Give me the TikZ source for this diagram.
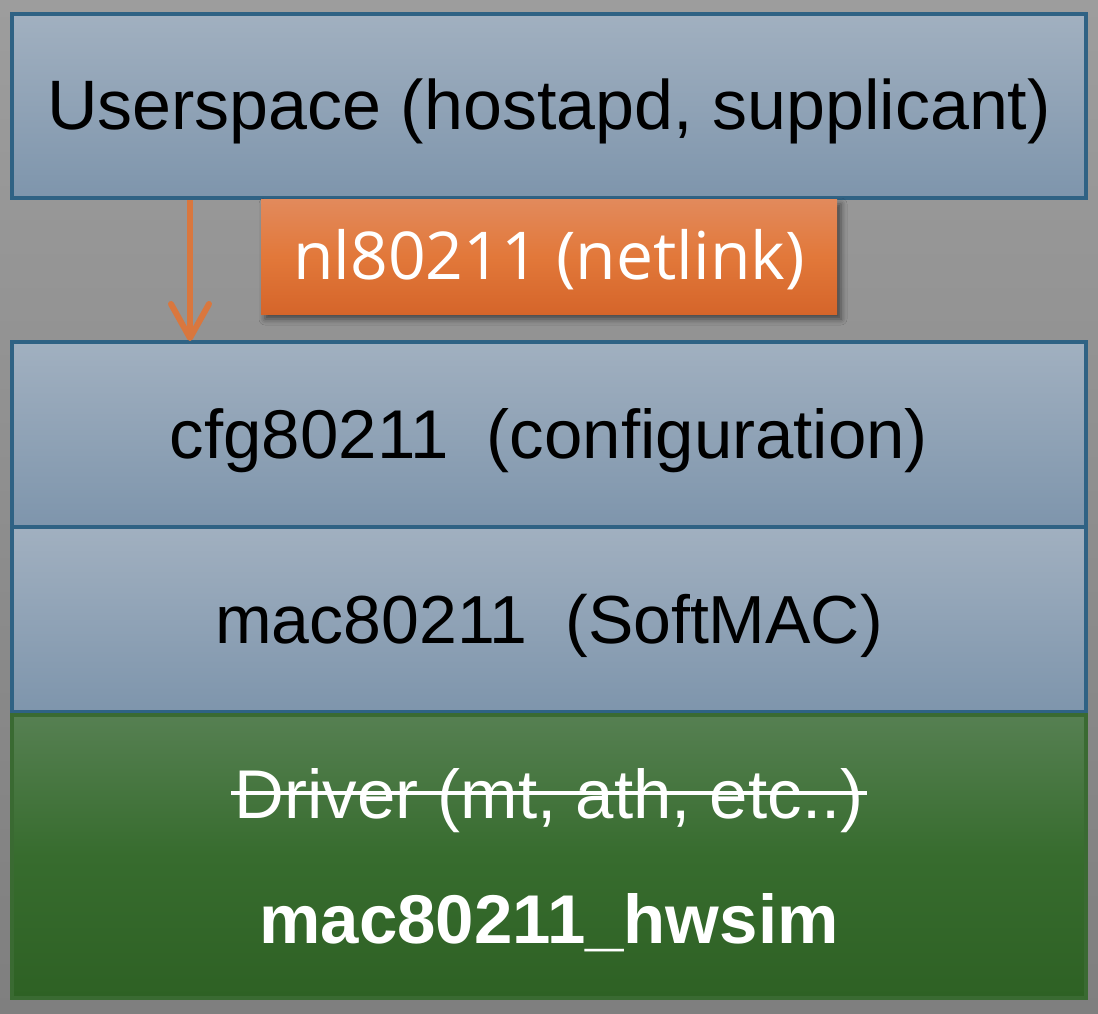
\documentclass[tikz,border=0pt]{standalone}
\usepackage{fontspec}
\setmainfont{Liberation Sans}
\newfontfamily\osans{Open Sans}
\usetikzlibrary{arrows.meta,shadows.blur}
\definecolor{bgtop}{RGB}{157,157,157}
\definecolor{bgbot}{RGB}{127,127,127}
\definecolor{bluetop}{RGB}{161,176,192}
\definecolor{bluebot}{RGB}{126,149,172}
\definecolor{blueline}{RGB}{47,98,132}
\definecolor{greentop}{RGB}{86,128,82}
\definecolor{greenmid}{RGB}{55,108,46}
\definecolor{greenbot}{RGB}{46,97,36}
\definecolor{greenline}{RGB}{58,106,50}
\definecolor{orangetop}{RGB}{226,138,92}
\definecolor{orangemid}{RGB}{226,120,58}
\definecolor{orangebot}{RGB}{213,101,42}
\definecolor{arrowcol}{RGB}{217,119,62}
\begin{document}
\begin{tikzpicture}[x=1pt,y=-1pt,
  layerbox/.style={draw=blueline, line width=3.5pt, top color=bluetop, bottom color=bluebot,
    minimum width=1074pt, inner sep=0pt, outer sep=0pt},
  hwbox/.style={draw=greenline, line width=3.5pt, top color=greentop, bottom color=greenbot, middle color=greenmid,
    minimum width=1074pt, inner sep=0pt, outer sep=0pt},
  nlbox/.style={top color=orangetop, bottom color=orangebot, middle color=orangemid,
    minimum width=576pt, minimum height=115pt, inner sep=0pt, outer sep=0pt,
    blur shadow={shadow xshift=4pt, shadow yshift=-5pt, shadow blur radius=6pt, shadow opacity=55}},
  darktext/.style={anchor=base, inner sep=0pt, text=black},
  whitetext/.style={anchor=base, inner sep=0pt, text=white},
  arr/.style={draw=arrowcol, line width=6pt, -{Straight Barb[length=34pt,width=38pt,round]}}
]
\useasboundingbox (0,0) rectangle (1098,1014);
\shade[top color=bgtop, bottom color=bgbot] (0,0) rectangle (1098,1014);

\node[layerbox, minimum height=184pt] (user) at (549,106) {};
\node[nlbox] (nl) at (549,256.5) {};
\node[layerbox, minimum height=185pt] (cfg) at (549,434.5) {};
\node[layerbox, minimum height=185pt] (mac) at (549,619.5) {};
\node[hwbox, minimum height=283pt] (hw) at (549,856.5) {};

\node[darktext, font=\fontsize{70}{84}\selectfont] (usertxt) at (549,130) {Userspace (hostapd, supplicant)};
\node[whitetext, font=\osans\fontsize{66}{80}\selectfont] (nltxt) at (549,279) {nl80211 (netlink)};
\node[darktext, font=\fontsize{69}{84}\selectfont] (cfgtxt) at (549,458) {cfg80211\ \ (configuration)};
\node[darktext, font=\fontsize{68}{84}\selectfont] (mactxt) at (549,643) {mac80211\ \ (SoftMAC)};
\node[whitetext, font=\fontsize{69}{84}\selectfont] (drvtxt) at (549,818) {Driver (mt, ath, etc..)};
\node[whitetext, font=\bfseries\fontsize{69}{84}\selectfont] (simtxt) at (549,943) {mac80211\_hwsim};

\draw[white, line width=4pt] ([xshift=-3pt,yshift=25pt]drvtxt.base west) -- ([xshift=3pt,yshift=25pt]drvtxt.base east);

\coordinate (arrx) at (190,0);
\draw[arr] ([yshift=-2pt]user.south -| arrx) -- ([yshift=1pt]cfg.north -| arrx);
\end{tikzpicture}
\end{document}
